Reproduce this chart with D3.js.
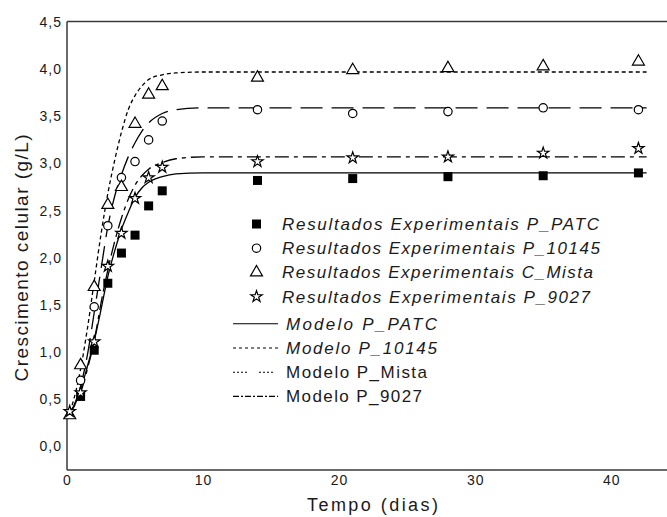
<!DOCTYPE html>
<html>
<head>
<meta charset="utf-8">
<script src="https://cdn.jsdelivr.net/npm/d3@7"></script>
<style>
  html, body { margin: 0; padding: 0; background: #fff; }
  #chart { width: 667px; height: 517px; }
  text { font-family: "Liberation Sans", Arial, sans-serif; fill: #1a1a1a; }
</style>
</head>
<body>
<div id="chart"></div>
<script>
// Experimental data (days, g/L)
const patcDays = [1, 2, 3, 4, 5, 6, 7, 14, 21, 28, 35, 42];
const patcVals = [0.53, 1.02, 1.73, 2.05, 2.24, 2.55, 2.71, 2.82, 2.84, 2.86, 2.87, 2.90];

const p10145Days = [1, 2, 3, 4, 5, 6, 7, 14, 21, 28, 35, 42];
const p10145Vals = [0.70, 1.48, 2.34, 2.85, 3.02, 3.25, 3.45, 3.57, 3.53, 3.55, 3.59, 3.57];

const mistaDays = [0.2, 1, 2, 3, 4, 5, 6, 7, 14, 21, 28, 35, 42];
const mistaVals = [0.33, 0.86, 1.69, 2.56, 2.75, 3.42, 3.73, 3.82, 3.91, 3.99, 4.01, 4.03, 4.08];

const p9027Days = [0.2, 1, 2, 3, 4, 5, 6, 7, 14, 21, 28, 35, 42];
const p9027Vals = [0.37, 0.57, 1.11, 1.91, 2.26, 2.63, 2.85, 2.96, 3.02, 3.06, 3.07, 3.11, 3.16];

// Model curves
const modelDays = [0, 0.5, 1, 1.5, 2, 2.5, 3, 3.5, 4, 4.5, 5, 5.5, 6, 7, 8, 10, 42.6];
const modelPatc  = [0.33, 0.42, 0.60, 0.85, 1.12, 1.45, 1.80, 2.07, 2.30, 2.48, 2.64, 2.74, 2.80, 2.86, 2.89, 2.90, 2.90];
const model10145 = [0.30, 0.43, 0.64, 0.97, 1.42, 1.88, 2.33, 2.65, 2.88, 3.07, 3.22, 3.34, 3.43, 3.53, 3.57, 3.59, 3.59];
const modelMista = [0.30, 0.50, 0.82, 1.25, 1.75, 2.25, 2.68, 3.03, 3.33, 3.57, 3.72, 3.82, 3.89, 3.94, 3.96, 3.97, 3.97];
const model9027  = [0.32, 0.42, 0.57, 0.82, 1.12, 1.52, 1.87, 2.17, 2.42, 2.62, 2.77, 2.87, 2.94, 3.01, 3.05, 3.07, 3.07];

const xTicks = [0, 10, 20, 30, 40];
const yTicks = [0, 0.5, 1, 1.5, 2, 2.5, 3, 3.5, 4, 4.5];

const legendLabels = [
  "Resultados Experimentais P_PATC",
  "Resultados Experimentais P_10145",
  "Resultados Experimentais C_Mista",
  "Resultados Experimentais P_9027",
  "Modelo P_PATC",
  "Modelo P_10145",
  "Modelo P_Mista",
  "Modelo P_9027"
];

const width = 667, height = 517;
const svg = d3.select("#chart").append("svg")
  .attr("width", width)
  .attr("height", height);

const x = d3.scaleLinear().domain([0, 44.1]).range([67, 667]);
const y = d3.scaleLinear().domain([-0.25, 4.5]).range([470, 22]);

// frame: left, bottom, top (no right edge)
const frame = svg.append("g")
  .attr("stroke", "#3a3a3a")
  .attr("stroke-width", 1.5)
  .attr("fill", "none");
frame.append("line").attr("x1", x(0)).attr("x2", x(0)).attr("y1", y(4.5) - 0.5).attr("y2", y(-0.25));
frame.append("line").attr("x1", x(0)).attr("x2", width).attr("y1", y(-0.25)).attr("y2", y(-0.25));
frame.append("line").attr("x1", x(0)).attr("x2", width).attr("y1", y(4.5) - 0.5).attr("y2", y(4.5) - 0.5);

// axes
const fmt = d => d3.format(".1f")(d).replace(".", ",");
const yAxis = svg.append("g")
  .attr("transform", `translate(${x(0) - 2},0)`)
  .call(d3.axisLeft(y).tickValues(yTicks).tickSize(0).tickFormat(fmt));
yAxis.select(".domain").remove();
yAxis.selectAll("text")
  .style("font-family", "Liberation Sans, Arial, sans-serif")
  .style("font-size", "14px")
  .style("letter-spacing", "1px")
  .style("fill", "#1a1a1a");

const xAxis = svg.append("g")
  .attr("transform", `translate(0,${y(-0.25) + 2})`)
  .call(d3.axisBottom(x).tickValues(xTicks).tickSize(0).tickFormat(d3.format("d")));
xAxis.select(".domain").remove();
xAxis.selectAll("text")
  .style("font-family", "Liberation Sans, Arial, sans-serif")
  .style("font-size", "14px")
  .style("letter-spacing", "1px")
  .style("fill", "#1a1a1a");

// axis titles
svg.append("text")
  .attr("x", 372.5)
  .attr("y", 511)
  .attr("text-anchor", "middle")
  .attr("textLength", 131)
  .attr("lengthAdjust", "spacing")
  .style("font-size", "18px")
  .text("Tempo (dias)");

svg.append("text")
  .attr("transform", "translate(28,258) rotate(-90)")
  .attr("text-anchor", "middle")
  .attr("textLength", 247)
  .attr("lengthAdjust", "spacing")
  .style("font-size", "19px")
  .text("Crescimento celular (g/L)");

// model lines
const models = [
  { vals: modelPatc,  dash: null },
  { vals: model10145, dash: "22,9" },
  { vals: modelMista, dash: "4,3" },
  { vals: model9027,  dash: "14,5,4,5" }
];
const line = d3.line()
  .x(d => x(d[0]))
  .y(d => y(d[1]))
  .curve(d3.curveMonotoneX);

models.forEach(m => {
  svg.append("path")
    .datum(modelDays.map((d, i) => [d, m.vals[i]]))
    .attr("d", line)
    .attr("fill", "none")
    .attr("stroke", "#000")
    .attr("stroke-width", 1.3)
    .attr("stroke-dasharray", m.dash);
});

// markers
const sym = {
  square: d3.symbol().type(d3.symbolSquare).size(81)(),
  circle: d3.symbol().type(d3.symbolCircle).size(55)(),
  triangle: d3.symbol().type(d3.symbolTriangle).size(62)(),
  star: d3.symbol().type(d3.symbolStar).size(40)()
};

const series = [
  { days: patcDays,   vals: patcVals,   shape: "square",   filled: true },
  { days: p10145Days, vals: p10145Vals, shape: "circle",   filled: false },
  { days: mistaDays,  vals: mistaVals,  shape: "triangle", filled: false },
  { days: p9027Days,  vals: p9027Vals,  shape: "star",     filled: false }
];

function drawMarker(g, shape, filled, cx, cy) {
  g.append("path")
    .attr("d", sym[shape])
    .attr("transform", `translate(${cx},${cy})`)
    .attr("fill", filled ? "#000" : "#fff")
    .attr("stroke", "#000")
    .attr("stroke-width", filled ? 0 : 1.2);
}

series.forEach(s => {
  const g = svg.append("g");
  s.days.forEach((d, i) => drawMarker(g, s.shape, s.filled, x(d), y(s.vals[i])));
});

// legend
const legend = svg.append("g");
const legendDash = [null, "3,3", "2,2,2,2,2,2,2,12", "6,2,2,2"];
const legendWidths = [317, 318, 311, 308, 151, 151, 141, 136];
const italic = [true, true, true, true, true, true, false, false];

legendLabels.forEach((label, i) => {
  const cy = 224 + i * 24.2 + (i >= 4 ? 3 : 0);
  const tx = i < 4 ? 282 : 286;
  if (i < 4) {
    const s = series[i];
    drawMarker(legend, s.shape, s.filled, 256.5, cy);
  } else {
    legend.append("line")
      .attr("x1", 233).attr("x2", 278)
      .attr("y1", cy).attr("y2", cy)
      .attr("stroke", "#000")
      .attr("stroke-width", 1.1)
      .attr("stroke-dasharray", legendDash[i - 4]);
  }
  legend.append("text")
    .attr("x", tx)
    .attr("y", cy + 6)
    .attr("textLength", legendWidths[i])
    .attr("lengthAdjust", "spacing")
    .style("font-size", "17px")
    .style("font-style", italic[i] ? "italic" : "normal")
    .text(label);
});
</script>
</body>
</html>
